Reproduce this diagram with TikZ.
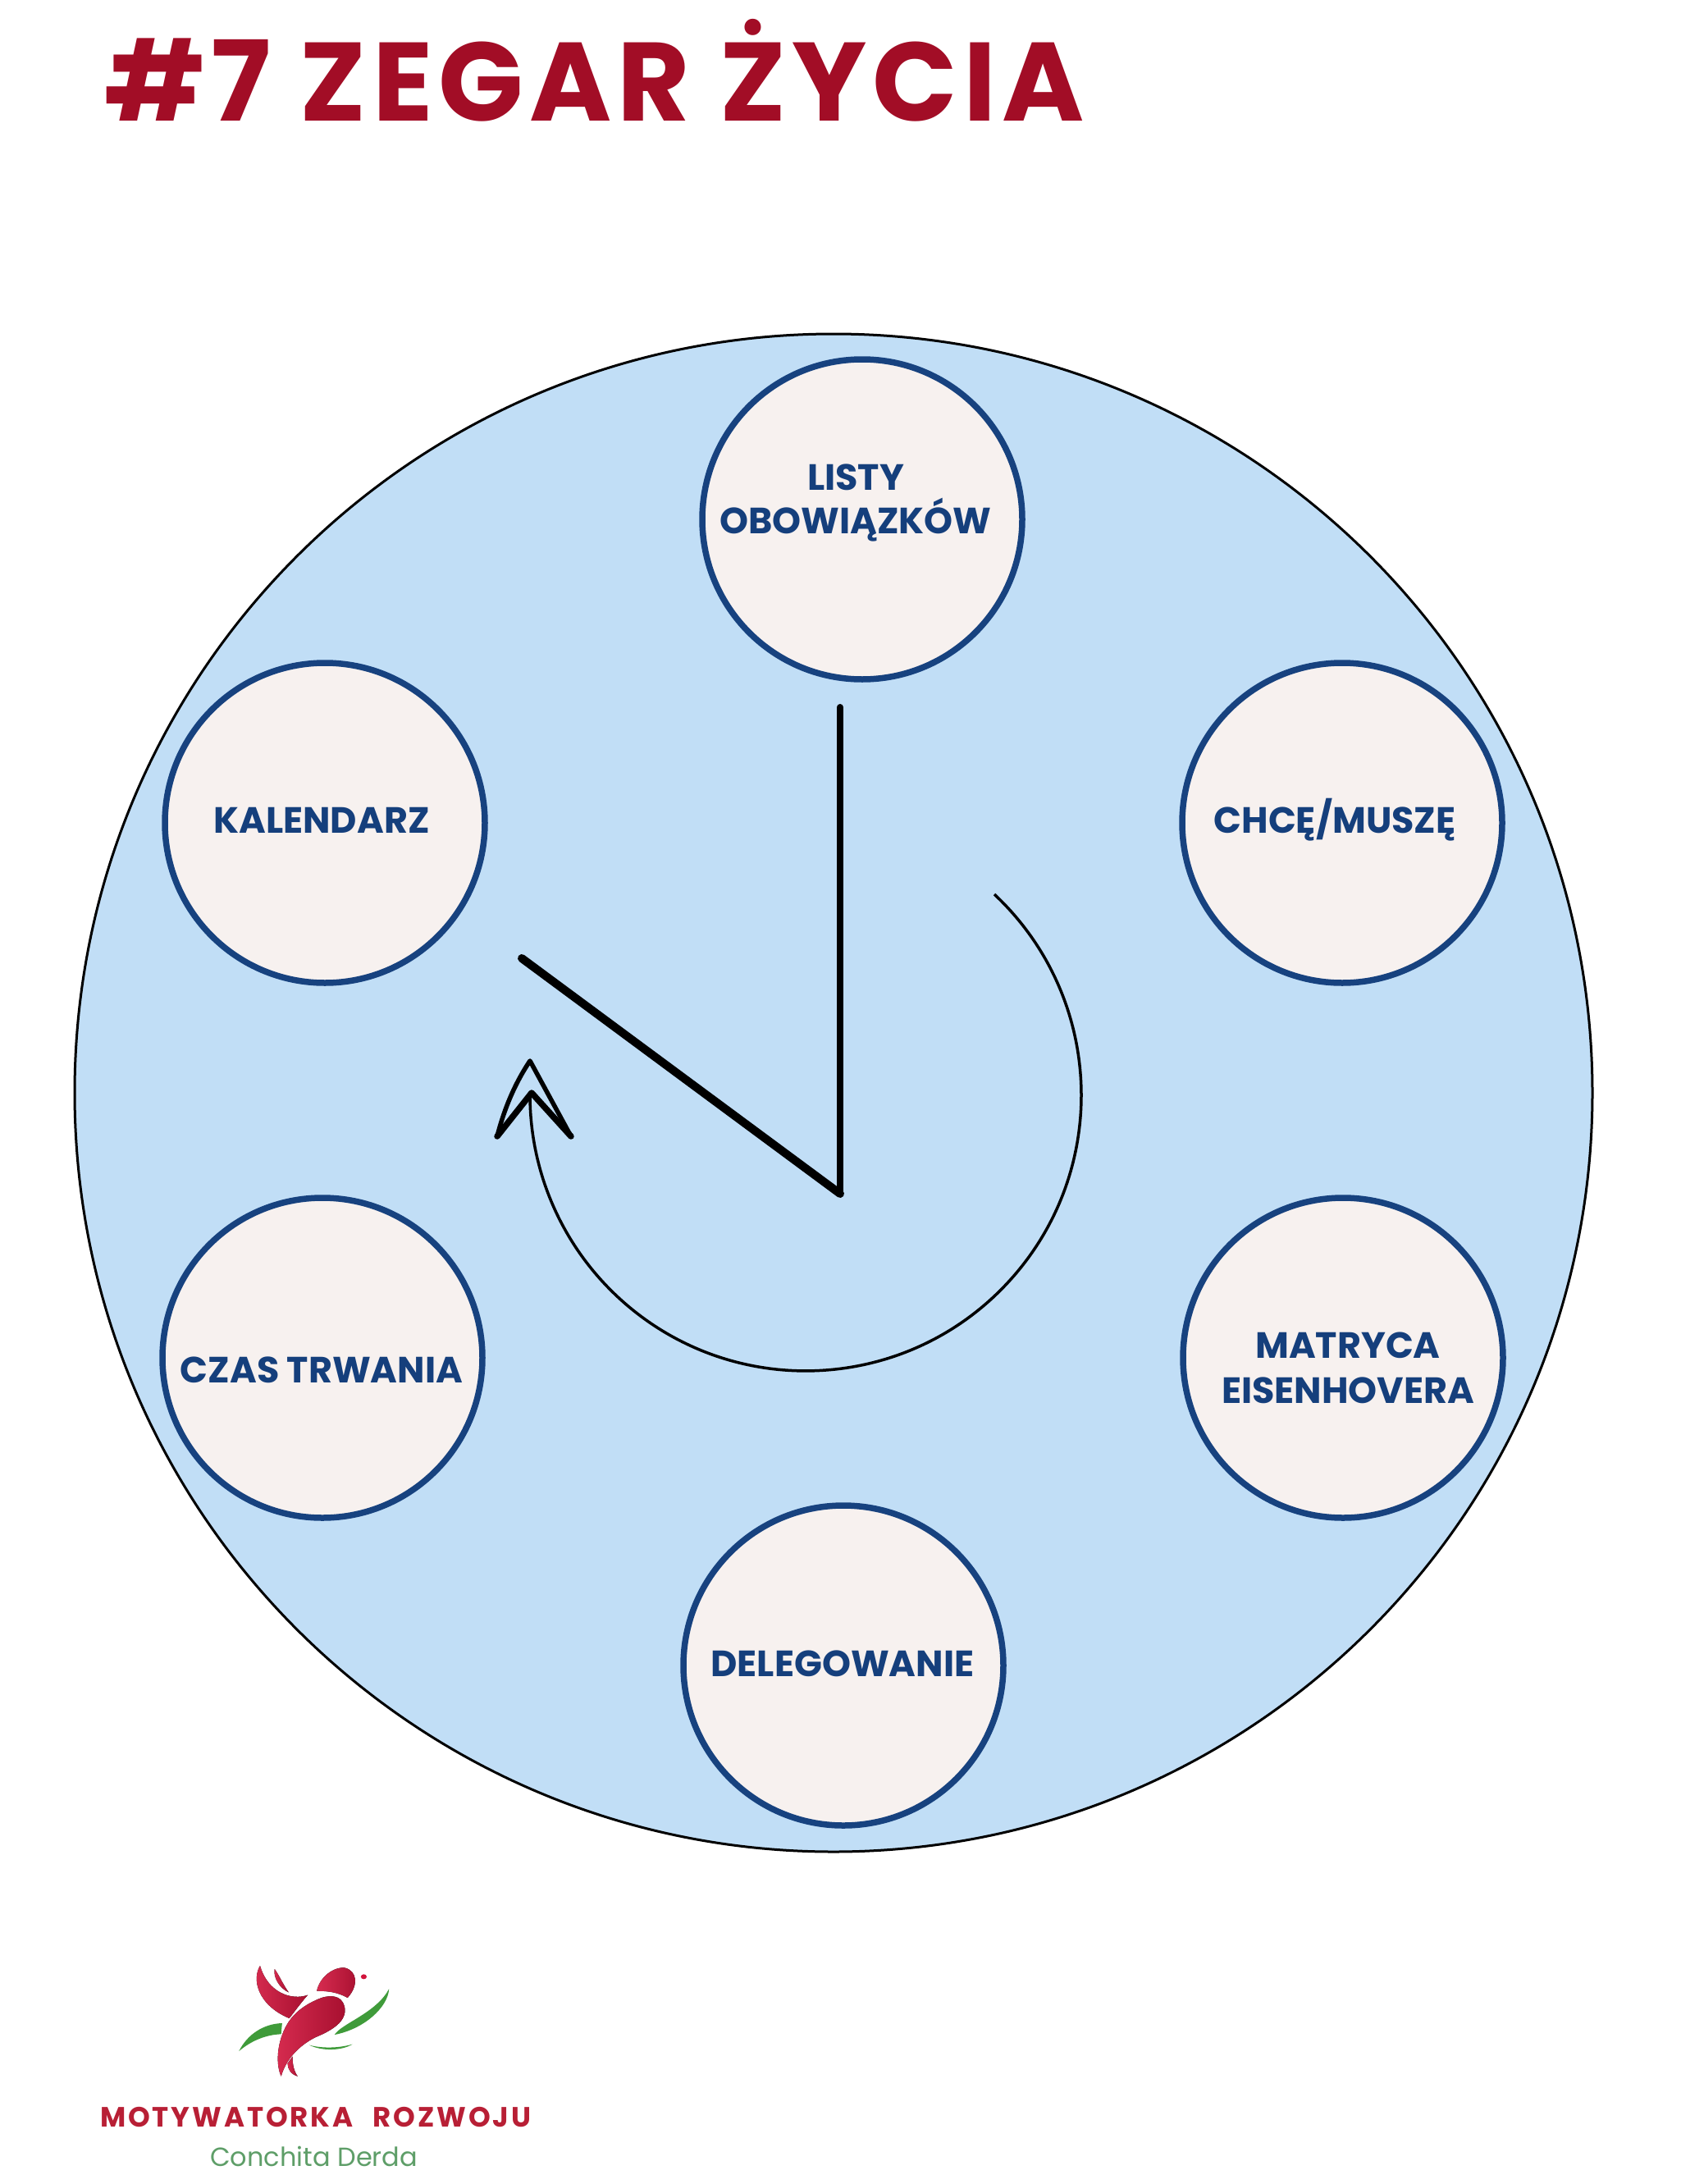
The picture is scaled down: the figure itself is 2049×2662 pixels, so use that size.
\documentclass[tikz,border=0pt]{standalone}
\usepackage{fontspec}
\setmainfont{Poppins}
\definecolor{titlered}{HTML}{A20D26}
\definecolor{dial}{HTML}{C1DEF6}
\definecolor{disc}{HTML}{F7F1EF}
\definecolor{ring}{HTML}{17427F}
\definecolor{labelblue}{HTML}{153F7C}
\definecolor{birdred}{HTML}{D2143C}
\definecolor{birdgreen}{HTML}{3F9B3A}
\definecolor{logored}{HTML}{B81F35}
\definecolor{logogreen}{HTML}{5E9E68}
\tikzset{
  dialface/.style={circle,draw=black,line width=3pt,fill=dial,minimum size=1850pt,inner sep=0pt},
  station/.style={circle,draw=ring,line width=7.5pt,fill=disc,minimum size=390pt,inner sep=0pt},
  lab/.style={text=labelblue,font=\fontsize{44.5}{44.5}\selectfont\bfseries,inner sep=0pt,anchor=base},
  hand/.style={draw=black,line cap=round,line join=miter},
  sweep/.style={draw=black,line width=3.5pt},
  birdpart/.style={left color=birdred!90!white,right color=birdred!80!black,draw=none},
  leaf/.style={fill=birdgreen,draw=none}
}
\begin{document}
\begin{tikzpicture}[x=1pt,y=-1pt]
\useasboundingbox (0,0) rectangle (2049,2662);
\fill[white] (0,0) rectangle (2049,2662);
\node[text=titlered,font=\fontsize{136}{136}\selectfont\bfseries\addfontfeatures{LetterSpace=5.2},inner sep=0pt,anchor=base west] (title) at (127,148) {\#7 ZEGAR ŻYCIA};
\node[dialface] (face) at (1016,1332) {};
\node[station] (s1) at (1051,633) {};
\node[station] (s2) at (1636,1003) {};
\node[station] (s3) at (1637,1655) {};
\node[station] (s4) at (1028,2030) {};
\node[station] (s5) at (393,1655) {};
\node[station] (s6) at (396,1003) {};
\node[lab] (l1a) at (1043,597) {LISTY};
\node[lab] (l1b) at (1043,650) {OBOWIĄZKÓW};
\node[lab] (l2) at (1627,1015) {CHCĘ/MUSZĘ};
\node[lab] (l3a) at (1643,1655) {MATRYCA};
\node[lab] (l3b) at (1643,1710) {EISENHOVERA};
\node[lab] (l4) at (1027,2043) {DELEGOWANIE};
\node[lab] (l5) at (392,1685) {CZAS TRWANIA};
\node[lab] (l6) at (392,1015) {KALENDARZ};
% hands
\coordinate (pivot) at (1024,1455);
\coordinate (minute) at (1024,862);
\coordinate (hour) at (636,1168);
\draw[hand,line width=8pt] (minute) -- (pivot);
\draw[hand,line width=10pt] (hour) -- (pivot);
% sweep arrow
\coordinate (arcstart) at (1212,1090);
\coordinate (notch) at (648,1332);
\draw[sweep] (arcstart) arc[start angle=-46.8,end angle=180,radius=336];
\coordinate (tip) at (646,1293);
\coordinate (barbl) at (606,1385);
\coordinate (barbr) at (696,1385);
\draw[draw=black,line width=5.5pt,line join=round] (barbl) .. controls (615,1350) and (628,1320) .. (tip) -- (barbr);
\draw[draw=black,line width=7.5pt,line join=round,line cap=round] (barbl) -- (notch) -- (barbr);
% logo
\begin{scope}[shift={(80,2320)},x=0.395pt,y=-0.3333pt]
\fill[birdpart] (600,228) .. controls (575,275) and (590,370) .. (690,420) .. controls (710,390) and (725,365) .. (747,335) .. controls (700,355) and (625,330) .. (600,228) -- cycle;
\fill[birdpart] (645,240) .. controls (640,270) and (660,310) .. (688,325) .. controls (670,295) and (660,265) .. (645,240) -- cycle;
\fill[birdpart] (775,320) .. controls (785,265) and (830,232) .. (860,235) .. controls (900,245) and (905,300) .. (870,345) .. controls (840,325) and (810,320) .. (775,320) -- cycle;
\fill[birdred] (920,268) circle[radius=9];
\fill[birdpart] (790,345) .. controls (830,330) and (860,345) .. (862,390) .. controls (862,440) and (810,470) .. (770,490) .. controls (720,520) and (680,570) .. (665,632) .. controls (645,580) and (655,490) .. (690,430) .. controls (710,395) and (745,365) .. (790,345) -- cycle;
\fill[birdpart] (700,560) .. controls (700,590) and (705,615) .. (716,632) .. controls (695,625) and (685,605) .. (685,585) -- cycle;
\fill[leaf] (998,312) .. controls (995,380) and (920,460) .. (830,480) .. controls (850,440) and (960,400) .. (998,312) -- cycle;
\fill[leaf] (668,438) .. controls (610,440) and (560,480) .. (535,540) .. controls (575,500) and (620,480) .. (665,478) -- cycle;
\fill[leaf] (752,518) .. controls (790,540) and (850,540) .. (885,515) .. controls (840,530) and (790,530) .. (752,518) -- cycle;
\end{scope}
\node[text=logored,font=\fontsize{34}{34}\selectfont\bfseries\addfontfeatures{LetterSpace=8.5},inner sep=0pt,anchor=base west] (brand) at (122,2592) {MOTYWATORKA\hspace{14pt} ROZWOJU};
\node[text=logogreen,font=\fontsize{32}{32}\selectfont,inner sep=0pt,anchor=base west] (author) at (256,2640) {Conchita Derda};
\end{tikzpicture}
\end{document}
